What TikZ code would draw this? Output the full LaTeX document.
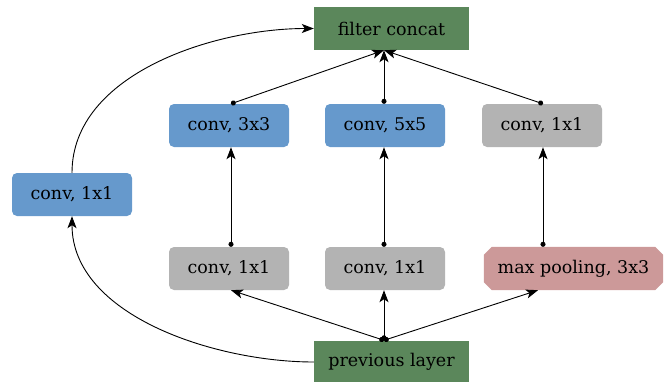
\documentclass[tikz,border=0pt]{standalone}
\usepackage{fontspec}
\setmainfont{DejaVu Serif}
\usetikzlibrary{arrows.meta,backgrounds,calc}
\definecolor{cblue}{HTML}{6699CC}
\definecolor{cgreen}{HTML}{5B875B}
\definecolor{cgray}{HTML}{B3B3B3}
\definecolor{cpink}{HTML}{CC9999}
\tikzset{
  box/.style={minimum width=120pt, minimum height=43pt, inner sep=0pt, font=\fontsize{17.5}{20}\selectfont, text=black},
  bluebox/.style={box, fill=cblue, rounded corners=5pt},
  graybox/.style={box, fill=cgray, rounded corners=5pt},
  greenbox/.style={box, fill=cgreen, minimum width=155pt},
  edge/.style={line width=0.9pt, {Circle[length=5pt]}-{Stealth[length=12pt,width=9pt,inset=3pt]}},
  curveedge/.style={line width=0.9pt, -{Stealth[length=12pt,width=9pt,inset=3pt]}},
}
\begin{document}
\begin{tikzpicture}[x=1pt,y=-1pt]
\useasboundingbox (0,0) rectangle (670,381);
\node[greenbox] (fc) at (391.5,28.5) {filter concat};
\node[bluebox] (c33) at (229,125.5) {conv, 3x3};
\node[bluebox] (c55) at (385,125.5) {conv, 5x5};
\node[graybox] (c11r) at (542,125.5) {conv, 1x1};
\node[bluebox] (c11l) at (72,194.5) {conv, 1x1};
\node[graybox] (c11a) at (229,268.5) {conv, 1x1};
\node[graybox] (c11b) at (385,268.5) {conv, 1x1};
\node[box, minimum width=179pt] (mp) at (573.5,268.5) {max pooling, 3x3};
\node[greenbox] (prev) at (391.5,362) {previous layer};
\begin{pgfonlayer}{background}
\fill[cpink] ($(mp.north west)+(8,0)$) -- ($(mp.north east)+(-8,0)$) -- ($(mp.north east)+(0,8)$) -- ($(mp.south east)+(0,-8)$) -- ($(mp.south east)+(-8,0)$) -- ($(mp.south west)+(8,0)$) -- ($(mp.south west)+(0,-8)$) -- ($(mp.north west)+(0,8)$) -- cycle;
\end{pgfonlayer}
\coordinate (fcin) at ($(fc.south)+(-7.5,0)$);
\coordinate (prevout) at ($(prev.north)+(-7.5,0)$);
\coordinate (c33t) at ($(c33.north)+(2,0)$);
\coordinate (c33b) at ($(c33.south)+(2,0)$);
\coordinate (c11at) at ($(c11a.north)+(2,0)$);
\coordinate (c55t) at ($(c55.north)+(-1,0)$);
\coordinate (c55b) at ($(c55.south)+(-1,0)$);
\coordinate (c11bt) at ($(c11b.north)+(-1,0)$);
\coordinate (c11rt) at ($(c11r.north)+(1,0)$);
\coordinate (c11rb) at ($(c11r.south)+(1,0)$);
\coordinate (mpt) at ($(mp.north)+(-30.5,0)$);
\coordinate (mpb) at ($(mp.south)+(-35.5,0)$);
\draw[edge] (c33t) -- (fcin);
\draw[edge] (c55t) -- (fcin);
\draw[edge] (c11rt) -- (fcin);
\draw[edge] (c11at) -- (c33b);
\draw[edge] (c11bt) -- (c55b);
\draw[edge] (mpt) -- (c11rb);
\draw[edge] (prevout) -- (c33b |- c11a.south);
\draw[edge] (prevout) -- (c11b.south -| prevout);
\draw[edge] (prevout) -- (mpb);
\draw[curveedge] (c11l.north) to[out=90,in=180,looseness=0.9] (fc.west);
\draw[curveedge] (prev.west) to[out=180,in=270,looseness=0.9] (c11l.south);
\end{tikzpicture}
\end{document}
